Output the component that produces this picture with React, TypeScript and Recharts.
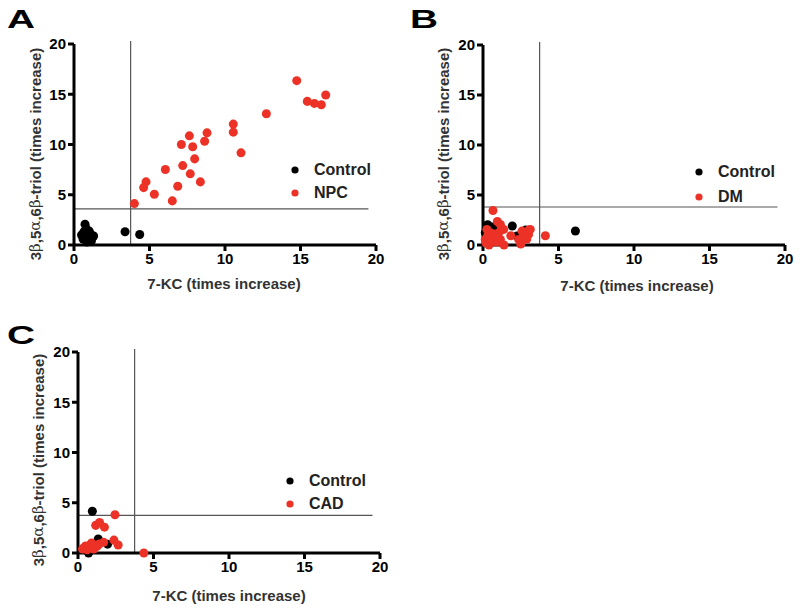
import React from "react";
import {
  ScatterChart,
  Scatter,
  XAxis,
  YAxis,
  ReferenceLine,
  Legend,
} from "recharts";

// [7-KC, triol] pairs
const aControl: [number, number][] = [
  [0.73, 2.06], [0.8, 1.65], [0.6, 0.6], [0.7, 0.9], [0.8, 1.2], [0.9, 0.5],
  [1.0, 0.8], [1.1, 1.1], [1.2, 0.7], [0.65, 1.3], [0.85, 0.3], [1.0, 1.4],
  [1.3, 0.9], [0.75, 0.7], [0.95, 1.0], [1.15, 0.4], [0.5, 1.0], [3.38, 1.32],
  [4.35, 1.05],
];
const aNpc: [number, number][] = [
  [4.0, 4.12], [4.61, 5.71], [4.77, 6.28], [5.32, 5.05], [6.05, 7.51],
  [6.51, 4.39], [6.87, 5.85], [7.11, 10.0], [7.2, 7.9], [7.64, 10.86],
  [7.7, 7.08], [7.86, 9.77], [7.99, 8.57], [8.37, 6.28], [8.65, 10.33],
  [8.81, 11.16], [10.55, 12.03], [10.55, 11.23], [11.06, 9.17], [12.74, 13.06],
  [14.75, 16.35], [15.45, 14.29], [15.92, 14.09], [16.38, 13.95], [16.67, 14.92],
];
const bControl: [number, number][] = [
  [0.31, 2.02], [0.15, 1.23], [0.7, 1.56], [0.45, 1.0], [0.6, 1.8], [1.94, 1.9],
  [2.25, 0.9], [2.39, 0.83], [2.83, 1.5], [6.12, 1.4],
];
const bDm: [number, number][] = [
  [0.66, 3.45], [0.95, 2.35], [1.15, 2.06], [1.24, 1.66], [1.37, 1.56],
  [1.84, 0.93], [3.05, 1.5], [3.13, 1.56], [3.02, 1.06], [2.72, 0.8],
  [2.58, 1.39], [2.5, 0.1], [2.36, 0.56], [4.13, 0.93], [1.39, 0.0],
  [0.4, 0.0], [0.26, 1.56], [0.49, 1.23], [0.82, 0.9], [1.15, 0.56],
  [0.15, 0.56], [0.6, 0.4], [1.04, 1.23], [0.3, 0.9], [0.7, 1.1],
  [0.9, 0.3], [0.5, 0.7], [0.2, 0.2], [1.0, 0.7], [2.9, 0.6],
];
const cControl: [number, number][] = [
  [0.95, 4.15], [1.34, 1.39], [1.96, 0.88], [0.7, 0.0], [0.49, 0.5], [0.8, 0.6],
];
const cCad: [number, number][] = [
  [2.45, 3.8], [1.17, 2.75], [1.43, 3.04], [1.75, 2.57], [2.38, 1.28],
  [2.66, 0.8], [4.36, 0.0], [0.37, 0.5], [0.82, 0.83], [1.26, 0.66],
  [1.7, 1.06], [0.6, 0.33], [1.04, 0.4], [0.5, 0.7], [0.9, 1.0],
  [1.4, 0.9], [0.3, 0.4],
];

const ticks = [0, 5, 10, 15, 20];
const FONT = '"Liberation Sans", Arial, Helvetica, sans-serif';
const RED = "#ec3227";

const toPts = (arr: [number, number][]) => arr.map(([x, y]) => ({ x, y }));

const XTick = (props: any) => (
  <text
    x={props.x}
    y={props.y}
    dy="0.75em"
    textAnchor="middle"
    fontFamily={FONT}
    fontSize={15}
    fontWeight={700}
    fill="#000"
  >
    {props.payload.value}
  </text>
);
const YTick = (props: any) => (
  <text
    x={props.x}
    y={props.y}
    dy="0.36em"
    textAnchor="end"
    fontFamily={FONT}
    fontSize={15}
    fontWeight={700}
    fill="#000"
  >
    {props.payload.value}
  </text>
);

type PanelProps = {
  left: number;
  top: number;
  width: number;
  height: number;
  margin: { top: number; right: number; bottom: number; left: number };
  yWidth: number;
  control: [number, number][];
  group: [number, number][];
  groupName: string;
  cutX: number;
  cutY: number;
  xLabel: [number, number];
  yLabel: [number, number];
  legendAt: [number, number];
  legendRow: number;
};

function Panel(p: PanelProps) {
  const xLab = () => (
    <text
      x={p.xLabel[0]}
      y={p.xLabel[1]}
      textAnchor="middle"
      dominantBaseline="central"
      fontFamily={FONT}
      fontSize={15}
      fontWeight={700}
      fill="#333"
    >
      7-KC (times increase)
    </text>
  );
  const greek = { fontFamily: '"DejaVu Serif", serif', fontWeight: 400 };
  const yLab = () => (
    <text
      x={p.yLabel[0]}
      y={p.yLabel[1]}
      transform={`rotate(-90 ${p.yLabel[0]} ${p.yLabel[1]})`}
      textAnchor="middle"
      dominantBaseline="central"
      fontFamily={FONT}
      fontSize={15}
      fontWeight={700}
      fill="#333"
    >
      3<tspan {...greek}>β</tspan>,5<tspan {...greek}>α</tspan>,6
      <tspan {...greek}>β</tspan>-triol (times increase)
    </text>
  );
  const order = ["Control", p.groupName];
  const legendContent = (props: any) => {
    const items = [...(props.payload || [])].sort(
      (a: any, b: any) => order.indexOf(a.value) - order.indexOf(b.value)
    );
    return (
      <div style={{ fontFamily: FONT, fontWeight: 700, fontSize: 16, color: "#222" }}>
        {items.map((e: any) => (
          <div
            key={e.value}
            style={{ display: "flex", alignItems: "center", height: p.legendRow }}
          >
            <svg width={8} height={8} style={{ display: "block" }}>
              <circle cx={4} cy={4} r={3.6} fill={e.color} />
            </svg>
            <span style={{ marginLeft: 15 }}>{e.value}</span>
          </div>
        ))}
      </div>
    );
  };

  return (
    <div style={{ position: "absolute", left: p.left, top: p.top }}>
      <ScatterChart width={p.width} height={p.height} margin={p.margin}>
        <XAxis
          type="number"
          dataKey="x"
          domain={[0, 20]}
          ticks={ticks}
          height={50}
          tickSize={6}
          tickMargin={2}
          stroke="#000"
          strokeWidth={3}
          tick={XTick}
          label={xLab}
        />
        <YAxis
          type="number"
          dataKey="y"
          domain={[0, 20]}
          ticks={ticks}
          width={p.yWidth}
          tickSize={6}
          tickMargin={2}
          stroke="#000"
          strokeWidth={3}
          tick={YTick}
          label={yLab}
        />
        <ReferenceLine
          segment={[{ x: p.cutX, y: 0 }, { x: p.cutX, y: 20.3 }]}
          stroke="#555"
          strokeWidth={1.2}
          ifOverflow="visible"
        />
        <ReferenceLine
          segment={[{ x: 0, y: p.cutY }, { x: 19.5, y: p.cutY }]}
          stroke="#555"
          strokeWidth={1.2}
          ifOverflow="visible"
        />
        <Scatter
          name="Control"
          data={toPts(p.control)}
          fill="#000"
          isAnimationActive={false}
        />
        <Scatter
          name={p.groupName}
          data={toPts(p.group)}
          fill={RED}
          isAnimationActive={false}
        />
        <Legend
          layout="vertical"
          align="center"
          verticalAlign="middle"
          content={legendContent}
          wrapperStyle={{ left: p.legendAt[0], top: p.legendAt[1], width: "auto" }}
        />
      </ScatterChart>
    </div>
  );
}

export default function App() {
  return (
    <div
      style={{
        position: "absolute",
        left: 0,
        top: 0,
        width: 800,
        height: 610,
        background: "#fff",
      }}
    >
      <Panel
        left={0}
        top={0}
        width={400}
        height={300}
        margin={{ top: 44, right: 24, bottom: 5, left: 10 }}
        yWidth={64}
        control={aControl}
        group={aNpc}
        groupName="NPC"
        cutX={3.75}
        cutY={3.6}
        xLabel={[224, 283]}
        yLabel={[35, 154]}
        legendAt={[291, 158]}
        legendRow={23}
      />
      <Panel
        left={400}
        top={0}
        width={400}
        height={300}
        margin={{ top: 45, right: 15, bottom: 5, left: 18 }}
        yWidth={65}
        control={bControl}
        group={bDm}
        groupName="DM"
        cutX={3.75}
        cutY={3.8}
        xLabel={[237, 285]}
        yLabel={[43, 154]}
        legendAt={[295, 160]}
        legendRow={24.6}
      />
      <Panel
        left={0}
        top={300}
        width={400}
        height={310}
        margin={{ top: 52, right: 20, bottom: 7, left: 14 }}
        yWidth={64}
        control={cControl}
        group={cCad}
        groupName="CAD"
        cutX={3.75}
        cutY={3.75}
        xLabel={[229, 295]}
        yLabel={[38, 160]}
        legendAt={[286, 169]}
        legendRow={23}
      />
      <svg
        width={800}
        height={610}
        style={{ position: "absolute", left: 0, top: 0, pointerEvents: "none" }}
      >
        {[
          ["A", 7, 28],
          ["B", 410, 28],
          ["C", 7, 344],
        ].map(([t, x, y]) => (
          <text
            key={t as string}
            x={x as number}
            y={y as number}
            fontFamily={FONT}
            fontSize={25}
            fontWeight={700}
            textLength={28}
            lengthAdjust="spacingAndGlyphs"
            fill="#000"
          >
            {t}
          </text>
        ))}
      </svg>
    </div>
  );
}
